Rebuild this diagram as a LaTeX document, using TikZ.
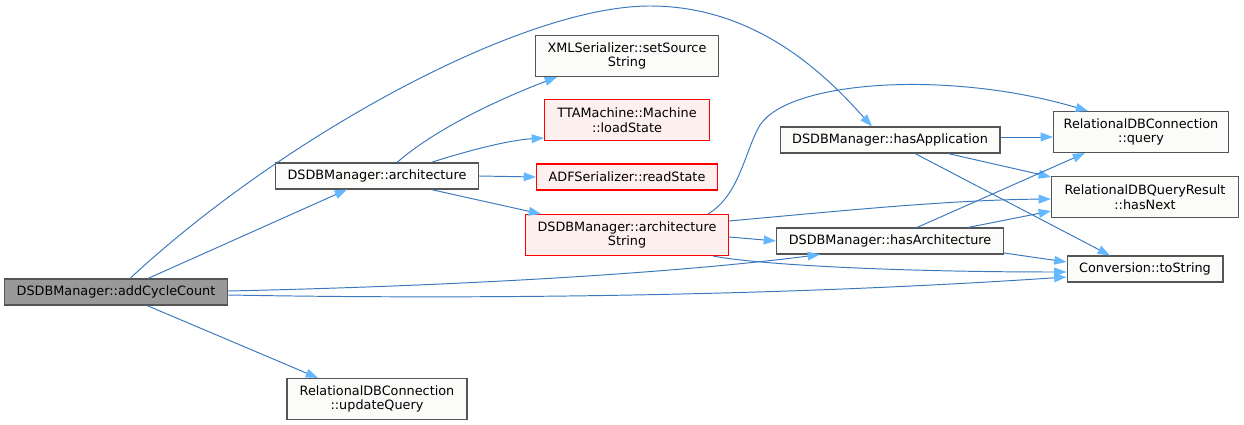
\documentclass[tikz,border=0pt]{standalone}
\usepackage{fontspec}
\setmainfont{DejaVu Sans}
\usetikzlibrary{arrows.meta}
\usetikzlibrary{calc}

\definecolor{edgeblue}{HTML}{3A78BE}
\definecolor{tipblue}{HTML}{63B8FF}
\definecolor{boxgray}{HTML}{555555}
\definecolor{mainfill}{HTML}{999999}
\definecolor{plainfill}{HTML}{FBFCFA}
\definecolor{redfill}{HTML}{FFF0F0}

\begin{document}
\begin{tikzpicture}[x=0.02cm, y=-0.02cm,
  fn/.style={draw=boxgray, fill=plainfill, line width=0.6pt, align=center, inner sep=1pt,
    minimum height=0.52cm, font=\fontsize{7.3}{8.3}\selectfont},
  fnmain/.style={fn, fill=mainfill},
  fnred/.style={fn, draw=red, fill=redfill},
  two/.style={minimum height=0.82cm},
  call/.style={edgeblue, line width=0.55pt, -{Triangle[length=7pt,width=5pt,color=tipblue]}}]
\useasboundingbox (0,0) rectangle (1244,425);
% functions
\node[fnmain, minimum width=4.46cm] (acc) at (116,292) {DSDBManager::addCycleCount};
\node[fn, minimum width=4.06cm] (arch) at (377,176) {DSDBManager::architecture};
\node[fn, two, minimum width=3.6cm] (upd) at (377,399) {RelationalDBConnection\\::updateQuery};
\node[fn, two, minimum width=3.66cm] (xml) at (627,56) {XMLSerializer::setSource\\String};
\node[fnred, two, minimum width=3.3cm] (load) at (627,120) {TTAMachine::Machine\\::loadState};
\node[fnred, minimum width=3.62cm] (adf) at (627,177) {ADFSerializer::readState};
\node[fnred, two, minimum width=4.06cm] (archstr) at (627,235) {DSDBManager::architecture\\String};
\node[fn, minimum width=4.4cm] (hasapp) at (890,140) {DSDBManager::hasApplication};
\node[fn, minimum width=4.54cm] (hasarch) at (890,241) {DSDBManager::hasArchitecture};
\node[fn, two, minimum width=3.5cm] (query) at (1141,132) {RelationalDBConnection\\::query};
\node[fn, two, minimum width=3.74cm] (next) at (1145,197) {RelationalDBQueryResult\\::hasNext};
\node[fn, minimum width=3.12cm] (tostr) at (1145,269) {Conversion::toString};
% calls of addCycleCount
\draw[call] ($(acc.north)+(32,0)$) -- ($(arch.south)+(-30,0)$);
\draw[call] ($(acc.north)+(14,0)$) .. controls (280,139) and (520,6) .. (650,6)
  .. controls (760,6) and (830,80) .. ($(hasapp.north)+(-18,0)$); % long arc over the top
\draw[call] ($(acc.east)+(0,-1)$) .. controls (500,285) and (700,270) .. ($(hasarch.south)+(-70,0)$);
\draw[call] ($(acc.east)+(0,3)$) .. controls (500,300) and (800,295) .. ($(tostr.west)+(0,8)$);
\draw[call] ($(acc.south)+(31,0)$) -- ($(upd.north)+(-59,0)$);
% calls of architecture
\draw[call] ($(arch.north)+(20,0)$) .. controls (440,125) and (510,95) .. ($(xml.south)+(-70,0)$);
\draw[call] ($(arch.north)+(54,0)$) .. controls (470,150) and (510,140) .. ($(load.south west)+(0,-3)$);
\draw[call] (arch.east) -- (adf.west);
\draw[call] ($(arch.south)+(54,0)$) -- ($(archstr.north west)+(16,0)$);
% calls of architectureString
\draw[call] ($(archstr.north)+(81,0)$) .. controls (740,195) and (745,150) .. (760,125)
  .. controls (790,80) and (950,70) .. ($(query.north)+(-53,0)$);
\draw[call] ($(archstr.east)+(0,-14)$) .. controls (850,210) and (950,200) .. ($(next.west)+(0,2)$);
\draw[call] ($(archstr.east)+(0,2)$) -- (hasarch.west);
\draw[call] ($(archstr.south)+(86,0)$) .. controls (760,265) and (900,272) .. ($(tostr.west)+(0,3)$);
% calls of hasApplication
\draw[call] ($(hasapp.east)+(0,-3)$) -- ($(query.west)+(0,5)$);
\draw[call] ($(hasapp.south)+(58,0)$) -- ($(next.north west)+(0,1)$);
\draw[call] ($(hasapp.south)+(25,0)$) -- ($(tostr.north)+(-35,0)$);
% calls of hasArchitecture
\draw[call] ($(hasarch.north)+(27,0)$) -- ($(query.south)+(-56,0)$);
\draw[call] ($(hasarch.north)+(78,0)$) -- ($(next.west)+(0,14)$);
\draw[call] ($(hasarch.east)+(0,12)$) -- ($(tostr.west)+(0,-7)$);
\end{tikzpicture}
\end{document}
